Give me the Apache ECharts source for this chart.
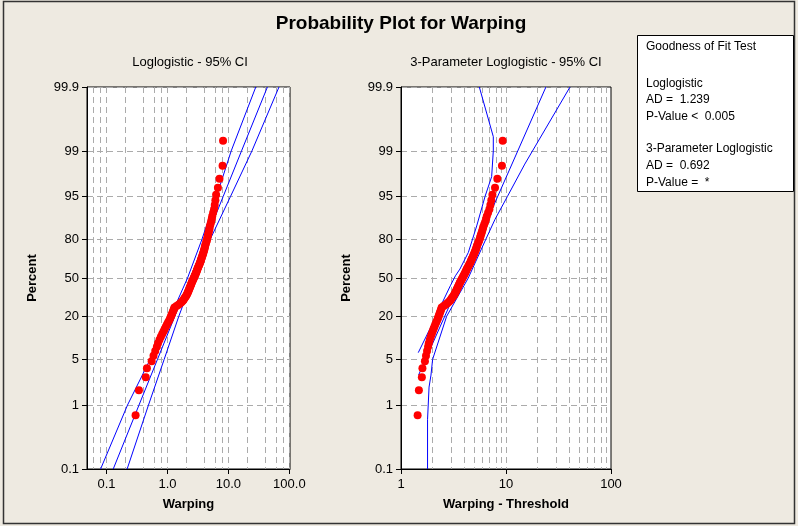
<!DOCTYPE html>
<html>
<head>
<meta charset="utf-8">
<title>Probability Plot for Warping</title>
<script src="https://cdn.jsdelivr.net/npm/echarts@6.0.0/dist/echarts.min.js"></script>
<style>
html, body { margin: 0; padding: 0; background: #EEEAE1; }
#chart { width: 798px; height: 526px; }
</style>
</head>
<body>
<div id="chart"></div>
<script>
var warping = [
	0.30, 0.34, 0.44, 0.46, 0.55, 0.59, 0.63, 0.67, 0.70, 0.74,
	0.78, 0.82, 0.86, 0.90, 0.94, 0.98, 1.02, 1.06, 1.10, 1.13,
	1.16, 1.19, 1.22, 1.25, 1.28, 1.30, 1.41, 1.52, 1.62, 1.71,
	1.79, 1.85, 1.91, 1.97, 2.03, 2.08, 2.13, 2.17, 2.21, 2.25,
	2.29, 2.33, 2.37, 2.41, 2.45, 2.49, 2.53, 2.58, 2.63, 2.68,
	2.73, 2.78, 2.83, 2.88, 2.93, 2.98, 3.03, 3.07, 3.12, 3.18,
	3.24, 3.30, 3.36, 3.42, 3.48, 3.53, 3.58, 3.64, 3.70, 3.76,
	3.82, 3.88, 3.94, 4.00, 4.06, 4.11, 4.16, 4.24, 4.32, 4.40,
	4.48, 4.54, 4.61, 4.69, 4.77, 4.86, 4.93, 5.06, 5.19, 5.31,
	5.42, 5.61, 5.81, 5.96, 6.11, 6.28, 6.72, 7.13, 8.01, 8.16
];
var threshold = -1.14;

// percent (logistic) scale
var pctTicks = [0.1, 1, 5, 20, 50, 80, 95, 99, 99.9];
var pctLabels = ['0.1', '1', '5', '20', '50', '80', '95', '99', '99.9'];

// x scales (log)
var xTicks1 = [0.1, 1, 10, 100];
var xLabels1 = ['0.1', '1.0', '10.0', '100.0'];
var xGrid1 = [0.06, 0.08, 0.1, 0.2, 0.4, 0.6, 0.8, 1, 2, 4, 6, 8, 10, 20, 40, 60, 80, 100];
var xTicks2 = [1, 10, 100];
var xLabels2 = ['1', '10', '100'];
var xGrid2 = [2, 3, 4, 5, 6, 7, 8, 9, 10, 20, 30, 40, 50, 60, 70, 80, 90];

// loglogistic fit + 95% CI, x at each of pctTicks
var fit1 = [0.129, 0.341, 0.685, 1.32, 2.37, 4.25, 8.19, 16.4, 43.6];
var lower1 = [0.080, 0.221, 0.519, 1.124, 2.135, 3.66, 6.36, 11.1, 28.1];
var upper1 = [0.218, 0.488, 0.882, 1.534, 2.63, 4.99, 10.8, 24.3, 67.5];

// 3-parameter loglogistic fit + 95% CI (percent, warping - threshold)
var fit2Pct = [2.9, 50, 99.9];
var fit2X = [1.47, 3.79, 24.0];
var lower2Pct = [6.3, 13.8, 27, 43, 52, 58, 71.6, 86.8, 95, 97.5, 99.0, 99.4, 99.9];
var lower2X = [1.46, 1.89, 2.40, 2.95, 3.30, 3.64, 4.38, 5.26, 6.31, 7.3, 7.57, 7.57, 5.57];
var upper2Pct = [0.1, 0.6, 1.9, 2.9, 5, 20, 50, 80, 89.3, 95, 98.4, 99.9];
var upper2X = [1.79, 1.79, 1.85, 1.93, 2.0, 2.72, 4.37, 6.4, 7.86, 10.3, 15.1, 40.7];

var FONT = 'Liberation Sans, Arial, sans-serif';
var GRID_COLOR = '#ABABAB';

function logit(p) { return Math.log(p / (1 - p)); }
function lg(v) { return Math.log10(v); }
function pickLabel(v, vals, labels) {
	var best = 0;
	for (var i = 1; i < vals.length; i++) {
		if (Math.abs(vals[i] - v) < Math.abs(vals[best] - v)) best = i;
	}
	return labels[best];
}

var yVals = pctTicks.map(function (p) { return logit(p / 100); });
var yMin = yVals[0];
var yMax = yVals[yVals.length - 1];

// median rank plotting positions
var n = warping.length;
function rankPct(i) { return (i + 1 - 0.3) / (n + 0.4); }

var pts1 = warping.map(function (w, i) { return [lg(w), logit(rankPct(i))]; });
var pts2 = warping.map(function (w, i) { return [lg(w - threshold), logit(rankPct(i))]; });

function curve(xs, pcts) {
	return xs.map(function (x, i) { return [lg(x), logit(pcts[i] / 100)]; });
}

function mainX(grid, min, max, ticks, labels, name) {
	var tv = ticks.map(lg);
	return {
		gridIndex: grid, type: 'value', min: min, max: max,
		name: name, nameLocation: 'middle', nameGap: 29,
		nameTextStyle: { fontFamily: FONT, fontSize: 13, fontWeight: 'bold', color: '#000' },
		axisLine: { show: true, onZero: false, lineStyle: { color: '#000', width: 1 } },
		axisTick: { show: true, length: 5, customValues: tv, lineStyle: { color: '#000' } },
		axisLabel: {
			customValues: tv, margin: 9, color: '#000', fontFamily: FONT, fontSize: 13,
			formatter: function (v) { return pickLabel(v, tv, labels); }
		},
		splitLine: { show: false }
	};
}

function gridX(grid, min, max, gridVals) {
	return {
		gridIndex: grid, type: 'value', min: min, max: max, position: 'top',
		axisLine: { show: false },
		axisTick: { show: false, customValues: gridVals.map(lg) },
		axisLabel: { show: false },
		splitLine: { show: true, lineStyle: { color: GRID_COLOR, width: 1, type: [6, 4] } }
	};
}

function mainY(grid) {
	return {
		gridIndex: grid, type: 'value', min: yMin, max: yMax,
		name: 'Percent', nameLocation: 'middle', nameGap: 48,
		nameTextStyle: { fontFamily: FONT, fontSize: 13, fontWeight: 'bold', color: '#000' },
		axisLine: { show: true, onZero: false, lineStyle: { color: '#000', width: 1 } },
		axisTick: { show: true, length: 5, customValues: yVals, lineStyle: { color: '#000' } },
		axisLabel: {
			customValues: yVals, margin: 8, color: '#000', fontFamily: FONT, fontSize: 13,
			showMinLabel: true, showMaxLabel: true,
			formatter: function (v) { return pickLabel(v, yVals, pctLabels); }
		},
		splitLine: { show: true, lineStyle: { color: GRID_COLOR, width: 1, type: [6, 4] } }
	};
}

function lineSeries(x, y, data) {
	return {
		type: 'line', xAxisIndex: x, yAxisIndex: y, data: data,
		showSymbol: false, symbol: 'none', smooth: false, z: 2,
		lineStyle: { color: '#0000FF', width: 1 }, silent: true
	};
}

function dotSeries(x, y, data) {
	return {
		type: 'scatter', xAxisIndex: x, yAxisIndex: y, data: data,
		symbol: 'circle', symbolSize: 8, z: 3,
		itemStyle: { color: '#FF0000', opacity: 1 }, silent: true
	};
}

var legendLines = [
	['Goodness of Fit Test', 47],
	['Loglogistic', 84],
	['AD =  1.239', 100],
	['P-Value <  0.005', 117],
	['3-Parameter Loglogistic', 149],
	['AD =  0.692', 166],
	['P-Value =  *', 183]
];

var graphics = [
	{ type: 'rect', shape: { x: 3.5, y: 1.5, width: 791, height: 522 },
		style: { fill: null, stroke: '#333', lineWidth: 1.5 }, silent: true },
	{ type: 'text', x: 401, y: 24, style: { text: 'Probability Plot for Warping', fontFamily: FONT,
		fontSize: 19, fontWeight: 'bold', fill: '#000', align: 'center', verticalAlign: 'middle' } },
	{ type: 'text', x: 190, y: 62, style: { text: 'Loglogistic - 95% CI', fontFamily: FONT,
		fontSize: 13, fill: '#000', align: 'center', verticalAlign: 'middle' } },
	{ type: 'text', x: 506, y: 62, style: { text: '3-Parameter Loglogistic - 95% CI', fontFamily: FONT,
		fontSize: 13, fill: '#000', align: 'center', verticalAlign: 'middle' } },
	{ type: 'rect', shape: { x: 637.5, y: 35.5, width: 156, height: 156 },
		style: { fill: '#fff', stroke: '#000', lineWidth: 1 } }
];
legendLines.forEach(function (l) {
	graphics.push({ type: 'text', x: 646, y: l[1], style: { text: l[0], fontFamily: FONT,
		fontSize: 12, fill: '#000', align: 'left', verticalAlign: 'middle' } });
});

var chart = echarts.init(document.getElementById('chart'));
chart.setOption({
	animation: false,
	backgroundColor: '#EEEAE1',
	grid: [
		{ left: 87, top: 87, width: 203, height: 382, show: true, backgroundColor: '#fff', borderColor: '#000', borderWidth: 1 },
		{ left: 401, top: 87, width: 210, height: 382, show: true, backgroundColor: '#fff', borderColor: '#000', borderWidth: 1 }
	],
	xAxis: [
		mainX(0, -1.32, 2.01, xTicks1, xLabels1, 'Warping'),
		gridX(0, -1.32, 2.01, xGrid1),
		mainX(1, 0, 2, xTicks2, xLabels2, 'Warping - Threshold'),
		gridX(1, 0, 2, xGrid2)
	],
	yAxis: [mainY(0), mainY(1)],
	series: [
		lineSeries(0, 0, curve(lower1, pctTicks)),
		lineSeries(0, 0, curve(fit1, pctTicks)),
		lineSeries(0, 0, curve(upper1, pctTicks)),
		dotSeries(0, 0, pts1),
		lineSeries(2, 1, curve(lower2X, lower2Pct)),
		lineSeries(2, 1, curve(fit2X, fit2Pct)),
		lineSeries(2, 1, curve(upper2X, upper2Pct)),
		dotSeries(2, 1, pts2)
	],
	graphic: graphics
});
</script>
</body>
</html>
